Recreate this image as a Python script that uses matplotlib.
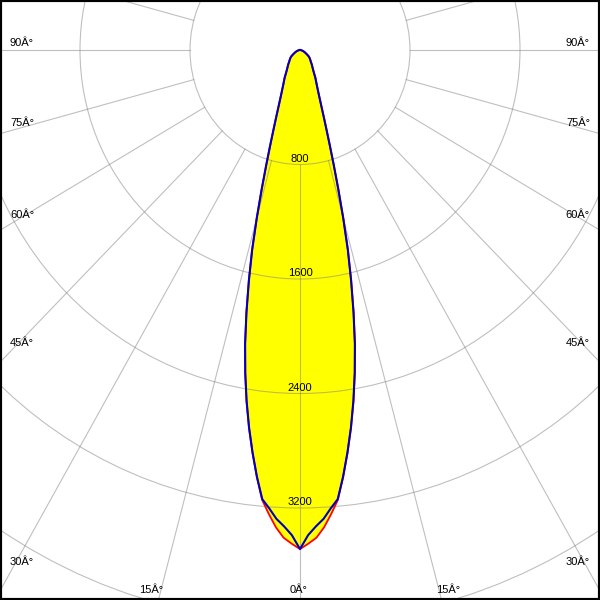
import numpy as np
import matplotlib
matplotlib.use("Agg")
import matplotlib.pyplot as plt
from matplotlib.patches import Circle

# intensity (cd) against angle from nadir (deg), one half of each plane
angles = [0, 1, 2, 3, 4, 5, 6, 7, 8, 9, 10, 11, 12, 13, 14, 15, 16, 17, 18, 19, 20,
          21, 22, 23, 24, 25, 26, 27, 28, 29, 30, 32, 35, 40, 45, 50, 55, 60, 65, 70,
          75, 80, 85, 90]
red_values = [3487, 3450, 3410, 3340, 3250, 3156, 3000, 2835, 2665, 2485, 2295,
              2095, 1875, 1655, 1440, 1215, 1010, 840, 705, 600, 520,
              455, 405, 365, 333, 307, 285, 266, 250, 236, 224, 195, 165, 135, 110,
              95, 78, 55, 40, 28, 18, 10, 4, 0]
blue_values = [3487, 3390, 3330, 3280, 3210, 3150, 2998, 2833, 2663, 2483, 2292,
               2092, 1872, 1652, 1438, 1213, 1008, 838, 703, 598, 518,
               454, 404, 364, 332, 306, 284, 265, 249, 235, 223, 194, 164, 134, 109,
               94, 77, 54, 39, 27, 17, 9, 4, 0]

rings = [800, 1600, 2400, 3200, 4000]
ring_labels = ["800", "1600", "2400", "3200"]
spoke_step = 15

side_labels = ["30Â°", "45Â°", "60Â°", "75Â°", "90Â°"]
bottom_labels = ["15Â°", "0Â°", "15Â°"]

# layout, in pixels of the 600x600 picture
W, H = 600, 600
cx, cy = 300, 50
ux, uy = 800 / 110.0, 800 / 114.5  # cd per pixel, the grid is slightly stretched vertically
side_baselines = [565, 346, 218, 126, 46]
bottom_x = [151.5, 299, 448.5]

GRID = dict(color="#808080", alpha=0.5, lw=0.8)
FONT = dict(family=["Liberation Sans", "DejaVu Sans"], size=8, color="black")


def to_xy(angles, values):
    a = np.radians(np.asarray(angles, float))
    v = np.asarray(values, float)
    a = np.concatenate([-a[::-1], a[1:]])
    v = np.concatenate([v[::-1], v[1:]])
    return v * np.sin(a), -v * np.cos(a)


fig = plt.figure(figsize=(6, 6), dpi=100)
ax = fig.add_axes([0, 0, 1, 1])
ax.set_xlim(-cx * ux, (W - cx) * ux)
ax.set_ylim(-(H - cy) * uy, cy * uy)
ax.set_aspect("auto")
ax.set_xticks([])
ax.set_yticks([])
for s in ax.spines.values():
    s.set_linewidth(3)
    s.set_color("black")

rx, ry = to_xy(angles, red_values)
bx, by = to_xy(angles, blue_values)
ax.fill(rx, ry, color="#ffff00", zorder=1, lw=0)
ax.fill(bx, by, color="#ffff00", zorder=1, lw=0)

for r in rings:
    ax.add_patch(Circle((0, 0), r, fill=False, zorder=2, **GRID))
for k in range(0, 360, spoke_step):
    t = np.radians(k)
    ax.plot([800 * np.sin(t), 8000 * np.sin(t)], [-800 * np.cos(t), -8000 * np.cos(t)],
            zorder=2, **GRID)

ax.plot(rx, ry, color="#ff0000", lw=1.3, zorder=3)
ax.plot(bx, by, color="#0000c0", lw=1.5, zorder=4)

for r, lab in zip(rings, ring_labels):
    ax.annotate(lab, (0, -r), xytext=(0, 2), textcoords="offset points",
                ha="center", va="baseline", zorder=5, **FONT)

for lab, yb in zip(side_labels, side_baselines):
    fig.text(10 / W, 1 - yb / H, lab, ha="left", va="baseline", **FONT)
    fig.text(590 / W, 1 - yb / H, lab, ha="right", va="baseline", **FONT)
for lab, xb in zip(bottom_labels, bottom_x):
    fig.text(xb / W, 1 - 593 / H, lab, ha="center", va="baseline", **FONT)

fig.savefig("out.png", dpi=100)
